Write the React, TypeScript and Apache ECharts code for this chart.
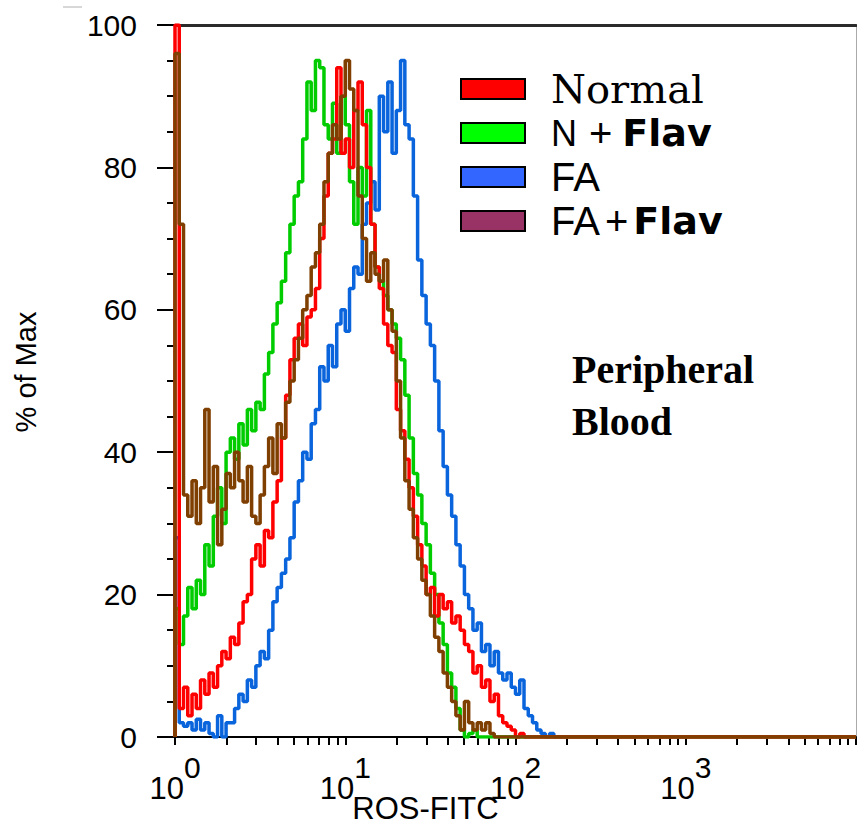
import React, { useEffect, useRef } from "react";
import * as echarts from "echarts";

// ---- data (histogram channels, 0.025 decade wide, starting at 10^0) ----
const CHANNEL_WIDTH = 0.025; // decades per channel
const X_MAX = 4; // decades (10^4)

const SERIES_NAMES = ["Normal", "N + Flav", "FA", "FA + Flav"];
const LINE_COLORS = ["#ff0000", "#00cc00", "#0a64dc", "#7f3f00"];
const LEGEND_COLORS = ["#ff0000", "#00ff00", "#3366ff", "#993366"];

const normal = [
  100, 4, 7, 3, 6, 4, 8, 6, 9, 7,
  10, 12, 11, 14, 13, 16, 19, 20, 25, 27,
  24, 29, 28, 33, 36, 42, 48, 53, 56, 58,
  55, 59, 60, 63, 70, 76, 82, 84, 94, 82,
  84, 80, 88, 92, 86, 80, 72, 66, 63, 58,
  55, 54, 46, 43, 39, 35, 31, 27, 24, 20,
  21, 17, 20, 18, 19, 16, 17, 15, 13, 12,
  9, 10, 7, 8, 5, 6, 3, 2, 1.5, 1,
  0, 0.5, 0, 0, 0, 0, 0, 0, 0, 0, 0,
];

const nFlav = [
  18, 13, 17, 21, 18, 22, 20, 27, 24, 31,
  35, 30, 40, 42, 39, 44, 41, 46, 43, 47,
  46, 51, 54, 58, 61, 64, 68, 72, 76, 78,
  84, 92, 88, 95, 94, 86, 84, 89, 82, 90,
  86, 78, 72, 80, 76, 88, 72, 66, 64, 62,
  60, 58, 56, 53, 48, 42, 37, 34, 30, 27,
  23, 20, 16, 13, 9, 7, 4, 1, 0, 0.5,
  1, 0, 0, 0, 0, 0, 0, 0, 0, 0,
  0, 0, 0, 0, 0, 0, 0, 0, 0, 0, 0,
];

const fa = [
  28, 2, 1.5, 2, 1, 2.5, 1, 2, 0.5, 0,
  3, 0, 2, 2, 4, 6, 5, 8, 7, 10,
  12, 11, 15, 19, 21, 23, 25, 28, 33, 36,
  40, 39, 44, 46, 52, 50, 55, 52, 58, 60,
  57, 63, 66, 65, 72, 75, 78, 74, 90, 85,
  92, 82, 88, 95, 86, 84, 76, 67, 62, 58,
  55, 50, 43, 38, 34, 31, 27, 24, 20, 18,
  15, 16, 12, 13, 10, 12, 9, 8, 9, 7,
  6, 8, 4, 3, 2, 1, 0.5, 0, 0.5, 0, 0,
];

const faFlav = [
  96, 72, 34, 31, 36, 30, 35, 46, 33, 38,
  27, 32, 37, 35, 40, 36, 33, 38, 31, 30,
  34, 38, 42, 37, 44, 42, 47, 50, 53, 56,
  60, 62, 66, 68, 72, 78, 82, 86, 84, 90,
  95, 91, 88, 76, 70, 64, 68, 65, 64, 67,
  60, 57, 50, 42, 36, 32, 28, 25, 22, 20,
  17, 14, 12, 9, 7, 5, 3, 1, 5, 2,
  1, 2, 1, 2, 0.5, 0, 0, 0, 0, 0,
  0, 0, 0, 0, 0, 0, 0, 0, 0, 0, 0,
];

const SERIES_VALUES = [normal, nFlav, fa, faFlav];
// drawing order (bottom to top): FA, N + Flav, Normal, FA + Flav
const DRAW_ORDER = [2, 1, 0, 3];

// ---- axis ticks ----
const X_LABEL_DECADES = [0, 1, 2, 3];
const X_TICK_DECADES = [0, 1, 2, 3];
const X_TICK_MULTIPLIERS = [1, 2, 3, 4, 5, 6, 7, 8, 9];
const Y_MIN = 0;
const Y_MAX = 100;
const Y_INTERVAL = 20;

const LEGEND_LABELS: Record<string, string> = {
  "Normal": "{serif|Normal}",
  "N + Flav": "{sans|N}{plusB|+}{bold|Flav}",
  "FA": "{big|FA}",
  "FA + Flav": "{big|FA}{plusA|+}{bold|Flav}",
};

export default function App() {
  const ref = useRef<HTMLDivElement>(null);

  useEffect(() => {
    if (!ref.current) return;
    const chart = echarts.init(ref.current, null, { renderer: "svg" });

    const xTicks: number[] = [];
    X_TICK_DECADES.forEach((d) =>
      X_TICK_MULTIPLIERS.forEach((m) => xTicks.push(Math.log10(m * Math.pow(10, d))))
    );
    xTicks.push(X_MAX);

    const toPoints = (vals: number[]) => [
      [0, 0],
      ...vals.map((v, i) => [i * CHANNEL_WIDTH, v]),
      [X_MAX, 0],
    ];

    const series = DRAW_ORDER.map((idx) => ({
      name: SERIES_NAMES[idx],
      type: "line",
      step: "end",
      symbol: "none",
      showSymbol: false,
      silent: true,
      data: toPoints(SERIES_VALUES[idx]),
      lineStyle: { color: LINE_COLORS[idx], width: 3.5 },
      itemStyle: { color: LINE_COLORS[idx] },
      emphasis: { disabled: true },
    }));

    const sansFont = "'Liberation Sans', Arial, sans-serif";

    chart.setOption({
      animation: false,
      backgroundColor: "#ffffff",
      grid: { left: 175, right: 1, top: 25, bottom: 90, outerBoundsMode: "none", containLabel: false },
      title: {
        text: "Peripheral\nBlood",
        left: 572,
        top: 343,
        padding: 0,
        textStyle: {
          fontFamily: "'Liberation Serif', 'Times New Roman', serif",
          fontWeight: "bold",
          fontSize: 40,
          lineHeight: 52,
          color: "#000",
        },
      },
      legend: {
        orient: "vertical",
        left: 460,
        top: 69,
        padding: 0,
        itemWidth: 64,
        itemHeight: 20,
        itemGap: 4,
        icon: "rect",
        selectedMode: false,
        data: SERIES_NAMES.map((n, i) => ({
          name: n,
          itemStyle: { color: LEGEND_COLORS[i], borderColor: "#000", borderWidth: 2 },
        })),
        formatter: (name: string) => LEGEND_LABELS[name] || name,
        textStyle: {
          color: "#000",
          padding: [0, 0, 0, 21],
          lineHeight: 20,
          rich: {
            serif: { fontFamily: "'DejaVu Serif', serif", fontSize: 40, lineHeight: 20, color: "#000" },
            sans: { fontFamily: sansFont, fontSize: 36, lineHeight: 20, color: "#000" },
            big: { fontFamily: sansFont, fontSize: 40, lineHeight: 20, color: "#000" },
            plusA: { fontFamily: sansFont, fontSize: 40, lineHeight: 20, color: "#000", padding: [0, 5, 0, 5] },
            plusB: { fontFamily: sansFont, fontSize: 40, lineHeight: 20, color: "#000", padding: [0, 10, 0, 12] },
            bold: { fontFamily: "'DejaVu Sans', sans-serif", fontWeight: "bold", fontSize: 38, lineHeight: 20, color: "#000" },
          },
        },
      },
      xAxis: [
        {
          type: "value",
          min: 0,
          max: X_MAX,
          position: "bottom",
          name: "ROS-FITC",
          nameLocation: "middle",
          nameGap: 56,
          nameMoveOverlap: false,
          nameTextStyle: {
            fontFamily: sansFont,
            fontSize: 31,
            color: "#000",
            padding: [0, 180, 0, 0],
          },
          axisLine: { show: true, onZero: false, lineStyle: { color: "#000", width: 2 } },
          axisTick: {
            show: true,
            customValues: xTicks,
            length: 8,
            lineStyle: { color: "#000", width: 2 },
          },
          axisLabel: {
            show: true,
            customValues: X_LABEL_DECADES,
            margin: 36,
            showMinLabel: true,
            formatter: (v: number) => `{b|10}{s|${v}}`,
            rich: {
              b: { fontFamily: sansFont, fontSize: 31, lineHeight: 31, color: "#000", verticalAlign: "bottom" },
              s: { fontFamily: sansFont, fontSize: 30, lineHeight: 31, color: "#000", verticalAlign: "bottom", padding: [0, 0, 22, 0] },
            },
          },
          splitLine: { show: false },
        },
        {
          type: "value",
          min: 0,
          max: X_MAX,
          position: "top",
          axisLine: { show: true, onZero: false, lineStyle: { color: "#2a2a2a", width: 3 } },
          axisTick: { show: false },
          axisLabel: { show: false },
          splitLine: { show: false },
        },
      ],
      yAxis: [
        {
          type: "value",
          min: Y_MIN,
          max: Y_MAX,
          interval: Y_INTERVAL,
          position: "left",
          name: "% of Max",
          nameLocation: "middle",
          nameGap: 135,
          nameMoveOverlap: false,
          nameTextStyle: {
            fontFamily: sansFont,
            fontSize: 29,
            color: "#000",
            padding: [0, 0, 0, 18],
          },
          axisLine: { show: true, onZero: false, lineStyle: { color: "#000", width: 2 } },
          axisTick: { show: true, length: 18, lineStyle: { color: "#000", width: 2 } },
          minorTick: { show: true, splitNumber: 4, length: 8, lineStyle: { color: "#000", width: 2 } },
          axisLabel: { margin: 38, fontFamily: sansFont, fontSize: 30, color: "#000" },
          splitLine: { show: false },
          minorSplitLine: { show: false },
        },
        {
          type: "value",
          min: Y_MIN,
          max: Y_MAX,
          position: "right",
          axisLine: { show: true, onZero: false, lineStyle: { color: "#aaaaaa", width: 1 } },
          axisTick: { show: false },
          axisLabel: { show: false },
          splitLine: { show: false },
        },
      ],
      graphic: [
        {
          type: "line",
          shape: { x1: 63, y1: 7, x2: 82, y2: 7 },
          style: { stroke: "#b0b0b0", lineWidth: 1 },
          silent: true,
        },
      ],
      series,
    });

    return () => chart.dispose();
  }, []);

  return <div ref={ref} style={{ width: 857, height: 827, position: "absolute", left: 0, top: 0 }} />;
}
